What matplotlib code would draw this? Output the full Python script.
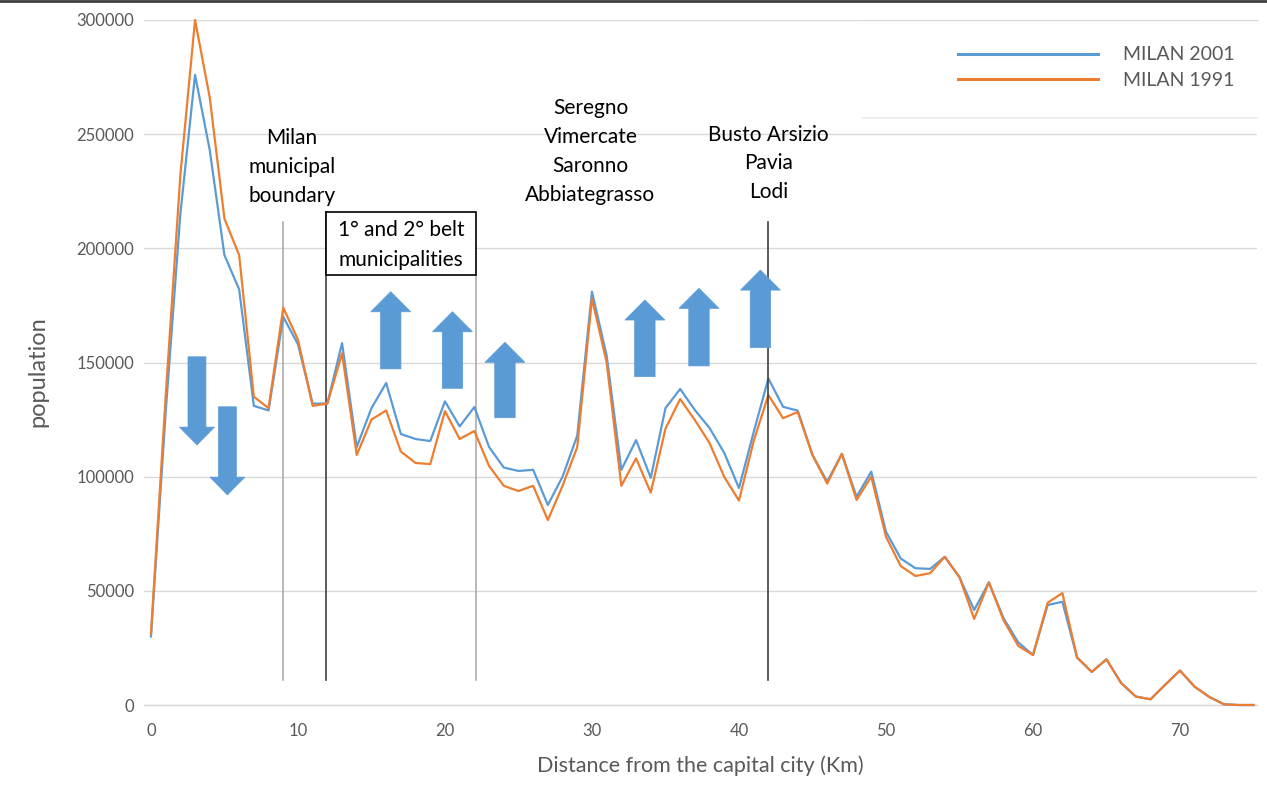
import matplotlib
matplotlib.use("Agg")
import matplotlib.pyplot as plt
from matplotlib.patches import FancyArrow, Rectangle

# ---------------- data ----------------
distance_km = list(range(76))
milan_2001 = [30000, 128000, 215000, 276000, 243000, 197000, 182000, 131000, 129000, 170000,
              158000, 132000, 132000, 158500, 113000, 130000, 141000, 118700, 116500, 115600,
              133000, 122000, 130500, 113000, 104000, 102500, 103000, 87600, 100000, 118000,
              181000, 153000, 103000, 116000, 99500, 130000, 138400, 129200, 121300, 110400,
              95000, 119500, 143000, 130600, 128900, 109500, 97800, 110000, 91200, 102200,
              75900, 64200, 59900, 59600, 64900, 56000, 41600, 53700, 38000, 27400,
              21900, 43800, 45200, 20800, 14500, 20000, 9600, 3700, 2500, 8900,
              15100, 8000, 3500, 300, 0, 0]
milan_1991 = [31000, 135000, 232000, 300000, 266000, 213000, 197000, 135000, 130000, 174000,
              160000, 131000, 132000, 154000, 109500, 125000, 129000, 111000, 106000, 105500,
              128700, 116500, 120000, 104700, 96000, 93700, 96000, 81000, 96000, 113000,
              178000, 150000, 96000, 108000, 93000, 121000, 134000, 124800, 114700, 99900,
              89500, 115600, 135800, 125600, 128300, 109500, 97000, 110000, 89800, 100000,
              73700, 60900, 56500, 57700, 64900, 56000, 37700, 53700, 37100, 25900,
              21900, 44800, 49000, 20800, 14500, 20000, 9600, 3700, 2500, 8900,
              15100, 8000, 3500, 300, 0, 0]
series_labels = ["MILAN 2001", "MILAN 1991"]
y_ticks = [0, 50000, 100000, 150000, 200000, 250000, 300000]
x_ticks = [0, 10, 20, 30, 40, 50, 60, 70]

BLUE = "#5B9BD5"
ORANGE = "#ED7D31"
GREY_TXT = "#595959"
GRID = "#D9D9D9"
FONT = ["Lato", "DejaVu Sans"]
plt.rcParams["font.family"] = FONT

W_PX, H_PX = 1267, 785
AX_L, AX_R, AX_B, AX_T = 143.6, 1257, 705, 20

fig = plt.figure(figsize=(12.67, 7.85), dpi=100)
ax = fig.add_axes([AX_L / W_PX, (H_PX - AX_B) / H_PX, (AX_R - AX_L) / W_PX, (AX_B - AX_T) / H_PX])


def ax_frac(px, py):
    return (px - AX_L) / (AX_R - AX_L), (AX_B - py) / (AX_B - AX_T)


ax.plot(distance_km, milan_2001, color=BLUE, lw=1.6, label=series_labels[0], zorder=3, clip_on=False)
ax.plot(distance_km, milan_1991, color=ORANGE, lw=1.6, label=series_labels[1], zorder=3, clip_on=False)

ax.set_xlim(-0.5, 75.24)
ax.set_ylim(0, 300000)
ax.set_yticks(y_ticks)
ax.set_yticklabels([str(v) for v in y_ticks])
ax.set_xticks(x_ticks)
ax.set_xticklabels([str(v) for v in x_ticks])
ax.tick_params(axis="both", length=0, labelsize=12, colors=GREY_TXT)
ax.tick_params(axis="y", pad=7)
ax.tick_params(axis="x", pad=13)
ax.grid(axis="y", color=GRID, lw=1, zorder=0)
ax.set_axisbelow(True)
for s in ["top", "right", "left"]:
    ax.spines[s].set_visible(False)
ax.spines["bottom"].set_color(GRID)
ax.spines["bottom"].set_linewidth(1)

ax.set_ylabel("population", fontsize=17, color=GREY_TXT)
ax.yaxis.set_label_coords(*ax_frac(48, 372))
ax.set_xlabel("Distance from the capital city (Km)", fontsize=15.5, color=GREY_TXT)
ax.xaxis.set_label_coords(*ax_frac(700, 755))

# ---------------- annotations ----------------
ax.plot([9.0, 9.0], [11000, 211500], color="#A6A6A6", lw=1.1, zorder=2)
ax.plot([11.9, 11.9], [11000, 216000], color="#404040", lw=1.2, zorder=2)
ax.plot([22.1, 22.1], [11000, 188300], color="#A6A6A6", lw=1.1, zorder=2)
ax.plot([42.0, 42.0], [11000, 211500], color="#404040", lw=1.2, zorder=4)

ax.add_patch(Rectangle((11.9, 188300), 22.1 - 11.9, 216000 - 188300, facecolor="white",
                       edgecolor="black", lw=1.2, zorder=5))
ax.text(17.0, 201500, "1° and 2° belt\nmunicipalities", ha="center", va="center",
        fontsize=15, color="black", linespacing=1.6, zorder=6)

ax.text(9.6, 235500, "Milan\nmunicipal\nboundary", ha="center", va="center",
        fontsize=15, color="black", linespacing=1.55, zorder=6)
ax.text(29.9, 242400, "Seregno\nVimercate\nSaronno\nAbbiategrasso", ha="center", va="center",
        fontsize=15, color="black", linespacing=1.55, zorder=6)
ax.text(42.0, 237200, "Busto Arsizio\nPavia\nLodi", ha="center", va="center",
        fontsize=15, color="black", linespacing=1.55, zorder=6)

down_arrows = [(3.13, 152500, 113900), (5.2, 130600, 92000)]
up_arrows = [(16.31, 147200, 181000), (20.51, 138700, 172250), (24.08, 125800, 158850),
             (33.6, 143800, 177400), (37.28, 148500, 182500), (41.46, 156500, 190500)]
for x, tail, tip in down_arrows:
    ax.add_patch(FancyArrow(x, tail, 0, tip - tail, width=1.22, head_width=2.38,
                            head_length=7800, length_includes_head=True,
                            facecolor=BLUE, edgecolor=BLUE, lw=0.5, zorder=5))
for x, tail, tip in up_arrows:
    ax.add_patch(FancyArrow(x, tail, 0, tip - tail, width=1.39, head_width=2.72,
                            head_length=8800, length_includes_head=True,
                            facecolor=BLUE, edgecolor=BLUE, lw=0.5, zorder=5))

# legend area
lx, ly = ax_frac(862, 118)
ax.add_patch(Rectangle((lx, ly), 1 - lx, 98 / (AX_B - AX_T), transform=ax.transAxes,
                       facecolor="white", edgecolor="none", zorder=6, clip_on=False))
ax.plot([lx, 1], [ly, ly], transform=ax.transAxes, color="#EBEBEB", lw=1.2, zorder=6, clip_on=False)
ax.plot([lx, 1], [1, 1], transform=ax.transAxes, color=GRID, lw=1, zorder=6, clip_on=False)
leg = ax.legend(loc="upper left", bbox_to_anchor=ax_frac(958, 46.5),
                frameon=False, fontsize=14, handlelength=7.2, handletextpad=1.3,
                labelspacing=0.45, borderaxespad=0, borderpad=0)
leg.set_zorder(7)
for t in leg.get_texts():
    t.set_color(GREY_TXT)
for l in leg.get_lines():
    l.set_linewidth(2.2)

fig.add_artist(plt.Line2D([0, 1], [0.999, 0.999], transform=fig.transFigure, color="#404040", lw=2))

fig.savefig("out.png", dpi=100)
